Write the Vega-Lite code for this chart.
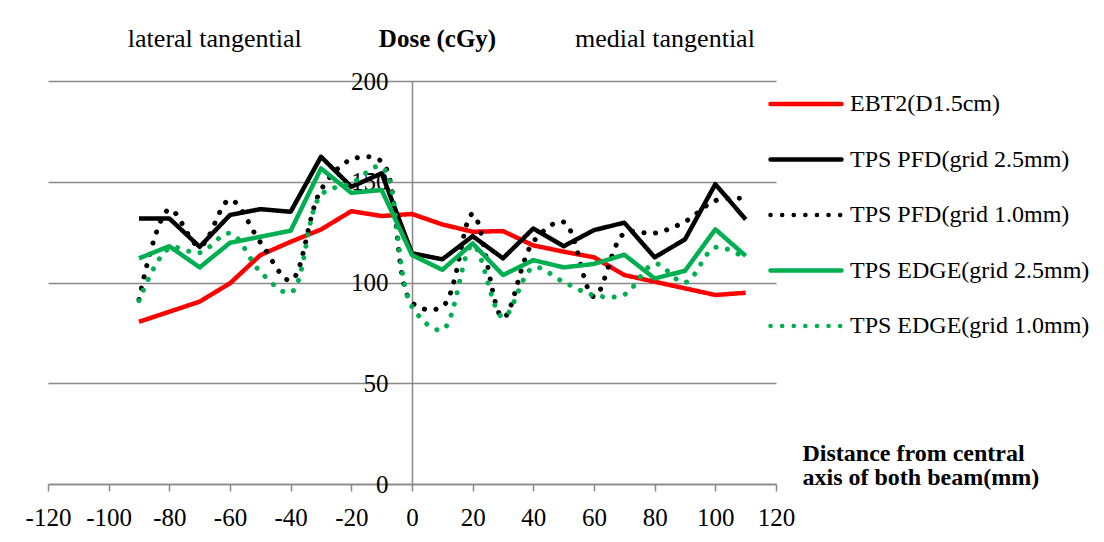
{
  "$schema": "https://vega.github.io/schema/vega-lite/v6.json",
  "width": 728,
  "height": 403,
  "autosize": {"type": "none"},
  "padding": {"left": 48, "top": 81, "right": 328, "bottom": 58},
  "background": "white",
  "config": {
    "font": "Liberation Serif",
    "view": {"stroke": null},
    "legend": {
      "orient": "none",
      "legendX": 720,
      "legendY": 8,
      "padding": 0,
      "symbolType": "stroke",
      "symbolSize": 5041,
      "symbolStrokeWidth": 4.5,
      "clipHeight": 30,
      "rowPadding": 25.5,
      "labelOffset": 6,
      "labelFont": "Liberation Serif",
      "labelFontSize": 24,
      "labelColor": "#000000",
      "labelLimit": 400
    }
  },
  "datasets": {
    "dose": [
      {"series": "EBT2(D1.5cm)", "x": -90, "dose": 80.5},
      {"series": "EBT2(D1.5cm)", "x": -80, "dose": 85.5},
      {"series": "EBT2(D1.5cm)", "x": -70, "dose": 90.5},
      {"series": "EBT2(D1.5cm)", "x": -60, "dose": 99.6},
      {"series": "EBT2(D1.5cm)", "x": -50, "dose": 113.6},
      {"series": "EBT2(D1.5cm)", "x": -40, "dose": 120.2},
      {"series": "EBT2(D1.5cm)", "x": -30, "dose": 126.3},
      {"series": "EBT2(D1.5cm)", "x": -20, "dose": 135.4},
      {"series": "EBT2(D1.5cm)", "x": -10, "dose": 133.0},
      {"series": "EBT2(D1.5cm)", "x": 0, "dose": 134.0},
      {"series": "EBT2(D1.5cm)", "x": 10, "dose": 128.8},
      {"series": "EBT2(D1.5cm)", "x": 20, "dose": 125.2},
      {"series": "EBT2(D1.5cm)", "x": 30, "dose": 125.5},
      {"series": "EBT2(D1.5cm)", "x": 40, "dose": 118.4},
      {"series": "EBT2(D1.5cm)", "x": 50, "dose": 115.3},
      {"series": "EBT2(D1.5cm)", "x": 60, "dose": 112.5},
      {"series": "EBT2(D1.5cm)", "x": 70, "dose": 103.7},
      {"series": "EBT2(D1.5cm)", "x": 80, "dose": 100.4},
      {"series": "EBT2(D1.5cm)", "x": 90, "dose": 97.1},
      {"series": "EBT2(D1.5cm)", "x": 100, "dose": 93.8},
      {"series": "EBT2(D1.5cm)", "x": 110, "dose": 94.9},
      {"series": "TPS PFD(grid 2.5mm)", "x": -90, "dose": 131.8},
      {"series": "TPS PFD(grid 2.5mm)", "x": -80, "dose": 131.8},
      {"series": "TPS PFD(grid 2.5mm)", "x": -70, "dose": 117.7},
      {"series": "TPS PFD(grid 2.5mm)", "x": -60, "dose": 133.5},
      {"series": "TPS PFD(grid 2.5mm)", "x": -50, "dose": 136.4},
      {"series": "TPS PFD(grid 2.5mm)", "x": -40, "dose": 135.1},
      {"series": "TPS PFD(grid 2.5mm)", "x": -30, "dose": 162.4},
      {"series": "TPS PFD(grid 2.5mm)", "x": -20, "dose": 147.5},
      {"series": "TPS PFD(grid 2.5mm)", "x": -10, "dose": 154.2},
      {"series": "TPS PFD(grid 2.5mm)", "x": 0, "dose": 114.5},
      {"series": "TPS PFD(grid 2.5mm)", "x": 10, "dose": 111.5},
      {"series": "TPS PFD(grid 2.5mm)", "x": 20, "dose": 123.0},
      {"series": "TPS PFD(grid 2.5mm)", "x": 30, "dose": 112.0},
      {"series": "TPS PFD(grid 2.5mm)", "x": 40, "dose": 126.8},
      {"series": "TPS PFD(grid 2.5mm)", "x": 50, "dose": 118.0},
      {"series": "TPS PFD(grid 2.5mm)", "x": 60, "dose": 126.0},
      {"series": "TPS PFD(grid 2.5mm)", "x": 70, "dose": 129.7},
      {"series": "TPS PFD(grid 2.5mm)", "x": 80, "dose": 112.5},
      {"series": "TPS PFD(grid 2.5mm)", "x": 90, "dose": 121.4},
      {"series": "TPS PFD(grid 2.5mm)", "x": 100, "dose": 148.8},
      {"series": "TPS PFD(grid 2.5mm)", "x": 110, "dose": 131.3},
      {"series": "TPS PFD(grid 1.0mm)", "x": -90, "dose": 91.6},
      {"series": "TPS PFD(grid 1.0mm)", "x": -80, "dose": 136.3},
      {"series": "TPS PFD(grid 1.0mm)", "x": -70, "dose": 118.0},
      {"series": "TPS PFD(grid 1.0mm)", "x": -60, "dose": 141.0},
      {"series": "TPS PFD(grid 1.0mm)", "x": -50, "dose": 120.0},
      {"series": "TPS PFD(grid 1.0mm)", "x": -40, "dose": 101.0},
      {"series": "TPS PFD(grid 1.0mm)", "x": -30, "dose": 146.0},
      {"series": "TPS PFD(grid 1.0mm)", "x": -20, "dose": 161.0},
      {"series": "TPS PFD(grid 1.0mm)", "x": -10, "dose": 160.0},
      {"series": "TPS PFD(grid 1.0mm)", "x": 0, "dose": 90.0},
      {"series": "TPS PFD(grid 1.0mm)", "x": 10, "dose": 88.0},
      {"series": "TPS PFD(grid 1.0mm)", "x": 20, "dose": 134.0},
      {"series": "TPS PFD(grid 1.0mm)", "x": 30, "dose": 82.5},
      {"series": "TPS PFD(grid 1.0mm)", "x": 40, "dose": 120.2},
      {"series": "TPS PFD(grid 1.0mm)", "x": 50, "dose": 130.0},
      {"series": "TPS PFD(grid 1.0mm)", "x": 60, "dose": 93.0},
      {"series": "TPS PFD(grid 1.0mm)", "x": 70, "dose": 124.4},
      {"series": "TPS PFD(grid 1.0mm)", "x": 80, "dose": 124.5},
      {"series": "TPS PFD(grid 1.0mm)", "x": 90, "dose": 130.2},
      {"series": "TPS PFD(grid 1.0mm)", "x": 100, "dose": 140.6},
      {"series": "TPS PFD(grid 1.0mm)", "x": 110, "dose": 141.7},
      {"series": "TPS EDGE(grid 2.5mm)", "x": -90, "dose": 112.0},
      {"series": "TPS EDGE(grid 2.5mm)", "x": -80, "dose": 118.0},
      {"series": "TPS EDGE(grid 2.5mm)", "x": -70, "dose": 107.5},
      {"series": "TPS EDGE(grid 2.5mm)", "x": -60, "dose": 119.7},
      {"series": "TPS EDGE(grid 2.5mm)", "x": -50, "dose": 122.7},
      {"series": "TPS EDGE(grid 2.5mm)", "x": -40, "dose": 125.7},
      {"series": "TPS EDGE(grid 2.5mm)", "x": -30, "dose": 156.6},
      {"series": "TPS EDGE(grid 2.5mm)", "x": -20, "dose": 144.5},
      {"series": "TPS EDGE(grid 2.5mm)", "x": -10, "dose": 145.9},
      {"series": "TPS EDGE(grid 2.5mm)", "x": 0, "dose": 113.6},
      {"series": "TPS EDGE(grid 2.5mm)", "x": 10, "dose": 106.3},
      {"series": "TPS EDGE(grid 2.5mm)", "x": 20, "dose": 119.4},
      {"series": "TPS EDGE(grid 2.5mm)", "x": 30, "dose": 103.7},
      {"series": "TPS EDGE(grid 2.5mm)", "x": 40, "dose": 111.1},
      {"series": "TPS EDGE(grid 2.5mm)", "x": 50, "dose": 107.5},
      {"series": "TPS EDGE(grid 2.5mm)", "x": 60, "dose": 109.2},
      {"series": "TPS EDGE(grid 2.5mm)", "x": 70, "dose": 113.8},
      {"series": "TPS EDGE(grid 2.5mm)", "x": 80, "dose": 102.0},
      {"series": "TPS EDGE(grid 2.5mm)", "x": 90, "dose": 105.8},
      {"series": "TPS EDGE(grid 2.5mm)", "x": 100, "dose": 126.4},
      {"series": "TPS EDGE(grid 2.5mm)", "x": 110, "dose": 113.2},
      {"series": "TPS EDGE(grid 1.0mm)", "x": -90, "dose": 91.0},
      {"series": "TPS EDGE(grid 1.0mm)", "x": -80, "dose": 117.0},
      {"series": "TPS EDGE(grid 1.0mm)", "x": -70, "dose": 114.8},
      {"series": "TPS EDGE(grid 1.0mm)", "x": -60, "dose": 124.4},
      {"series": "TPS EDGE(grid 1.0mm)", "x": -50, "dose": 105.3},
      {"series": "TPS EDGE(grid 1.0mm)", "x": -40, "dose": 95.0},
      {"series": "TPS EDGE(grid 1.0mm)", "x": -30, "dose": 143.4},
      {"series": "TPS EDGE(grid 1.0mm)", "x": -20, "dose": 149.2},
      {"series": "TPS EDGE(grid 1.0mm)", "x": -10, "dose": 157.4},
      {"series": "TPS EDGE(grid 1.0mm)", "x": 0, "dose": 88.0},
      {"series": "TPS EDGE(grid 1.0mm)", "x": 10, "dose": 76.5},
      {"series": "TPS EDGE(grid 1.0mm)", "x": 20, "dose": 118.6},
      {"series": "TPS EDGE(grid 1.0mm)", "x": 30, "dose": 82.8},
      {"series": "TPS EDGE(grid 1.0mm)", "x": 40, "dose": 107.4},
      {"series": "TPS EDGE(grid 1.0mm)", "x": 50, "dose": 100.2},
      {"series": "TPS EDGE(grid 1.0mm)", "x": 60, "dose": 93.7},
      {"series": "TPS EDGE(grid 1.0mm)", "x": 70, "dose": 94.0},
      {"series": "TPS EDGE(grid 1.0mm)", "x": 80, "dose": 109.3},
      {"series": "TPS EDGE(grid 1.0mm)", "x": 90, "dose": 100.0},
      {"series": "TPS EDGE(grid 1.0mm)", "x": 100, "dose": 117.4},
      {"series": "TPS EDGE(grid 1.0mm)", "x": 110, "dose": 112.0}
    ],
    "notes": [
      {"x": -65, "label": "lateral tangential"},
      {"x": 83.4, "label": "medial tangential"}
    ]
  },
  "layer": [
    {
      "data": {"name": "dose"},
      "transform": [{"filter": "datum.series === 'EBT2(D1.5cm)'"}],
      "mark": {"type": "line", "strokeWidth": 4.5, "strokeJoin": "round", "clip": false},
      "encoding": {
        "x": {
          "field": "x",
          "type": "quantitative",
          "scale": {"domain": [-120, 120], "nice": false, "zero": false},
          "axis": {
            "values": [-120, -100, -80, -60, -40, -20, 0, 20, 40, 60, 80, 100, 120],
            "labelExpr": "datum.value < 0 ? '-' + abs(datum.value) : '' + datum.value",
            "grid": false,
            "domainColor": "#898989",
            "domainWidth": 1.5,
            "tickColor": "#898989",
            "tickWidth": 1.5,
            "tickSize": 7,
            "labelPadding": 14,
            "labelFont": "Liberation Serif",
            "labelFontSize": 25,
            "labelColor": "#000000",
            "labelFlush": false,
            "labelOverlap": false,
            "title": ["Distance from central", "axis of both beam(mm)"],
            "titleFont": "Liberation Serif",
            "titleFontSize": 24,
            "titleFontWeight": "bold",
            "titleColor": "#000000",
            "titleAlign": "left",
            "titleAnchor": "start",
            "titleBaseline": "alphabetic",
            "titleLineHeight": 24,
            "titleX": 754,
            "titleY": -24
          }
        },
        "y": {
          "field": "dose",
          "type": "quantitative",
          "scale": {"domain": [0, 200], "nice": false},
          "axis": {
            "values": [0, 50, 100, 150, 200],
            "offset": -364,
            "grid": true,
            "gridColor": "#898989",
            "gridWidth": 1.5,
            "ticks": false,
            "domainColor": "#898989",
            "domainWidth": 1.5,
            "labelPadding": 24,
            "labelFont": "Liberation Serif",
            "labelFontSize": 25,
            "labelColor": "#000000",
            "title": "Dose (cGy)",
            "titleFont": "Liberation Serif",
            "titleFontSize": 25,
            "titleFontWeight": "bold",
            "titleColor": "#000000",
            "titleAngle": 0,
            "titleAlign": "center",
            "titleBaseline": "alphabetic",
            "titleX": 25,
            "titleY": -35
          }
        },
        "color": {"field": "series", "type": "nominal", "title": null,
          "scale": {"domain": ["EBT2(D1.5cm)", "TPS PFD(grid 2.5mm)", "TPS PFD(grid 1.0mm)", "TPS EDGE(grid 2.5mm)", "TPS EDGE(grid 1.0mm)"],
                    "range": ["#ff0000", "#000000", "#000000", "#00b050", "#00b050"]},
          "legend": {"encode": {"symbols": {"update": {"strokeCap": {"value": "round"}}}}}},
        "strokeDash": {"field": "series", "type": "nominal", "title": null,
          "scale": {"domain": ["EBT2(D1.5cm)", "TPS PFD(grid 2.5mm)", "TPS PFD(grid 1.0mm)", "TPS EDGE(grid 2.5mm)", "TPS EDGE(grid 1.0mm)"],
                    "range": [[1, 0], [1, 0], [0.1, 11.5], [1, 0], [0.1, 11.5]]},
          "legend": {"encode": {"symbols": {"update": {"strokeCap": {"value": "round"}}}}}}
      }
    },
    {
      "data": {"name": "dose"},
      "transform": [{"filter": "datum.series === 'TPS PFD(grid 2.5mm)'"}],
      "mark": {"type": "line", "strokeWidth": 4.5, "strokeJoin": "round", "clip": false},
      "encoding": {
        "x": {"field": "x", "type": "quantitative"},
        "y": {"field": "dose", "type": "quantitative"},
        "color": {"field": "series", "type": "nominal", "title": null},
        "strokeDash": {"field": "series", "type": "nominal", "title": null}
      }
    },
    {
      "data": {"name": "dose"},
      "transform": [{"filter": "datum.series === 'TPS PFD(grid 1.0mm)'"}],
      "mark": {"type": "line", "strokeWidth": 5, "strokeCap": "round", "interpolate": "catmull-rom", "clip": false},
      "encoding": {
        "x": {"field": "x", "type": "quantitative"},
        "y": {"field": "dose", "type": "quantitative"},
        "color": {"field": "series", "type": "nominal", "title": null},
        "strokeDash": {"field": "series", "type": "nominal", "title": null}
      }
    },
    {
      "data": {"name": "dose"},
      "transform": [{"filter": "datum.series === 'TPS EDGE(grid 2.5mm)'"}],
      "mark": {"type": "line", "strokeWidth": 4.5, "strokeJoin": "round", "clip": false},
      "encoding": {
        "x": {"field": "x", "type": "quantitative"},
        "y": {"field": "dose", "type": "quantitative"},
        "color": {"field": "series", "type": "nominal", "title": null},
        "strokeDash": {"field": "series", "type": "nominal", "title": null}
      }
    },
    {
      "data": {"name": "dose"},
      "transform": [{"filter": "datum.series === 'TPS EDGE(grid 1.0mm)'"}],
      "mark": {"type": "line", "strokeWidth": 5, "strokeCap": "round", "interpolate": "catmull-rom", "clip": false},
      "encoding": {
        "x": {"field": "x", "type": "quantitative"},
        "y": {"field": "dose", "type": "quantitative"},
        "color": {"field": "series", "type": "nominal", "title": null},
        "strokeDash": {"field": "series", "type": "nominal", "title": null}
      }
    },
    {
      "data": {"name": "notes"},
      "mark": {"type": "text", "font": "Liberation Serif", "fontSize": 26, "fill": "#000000", "align": "center", "baseline": "alphabetic", "clip": false},
      "encoding": {
        "x": {"field": "x", "type": "quantitative"},
        "y": {"datum": 216.9, "type": "quantitative"},
        "text": {"field": "label", "type": "nominal"}
      }
    }
  ]
}
